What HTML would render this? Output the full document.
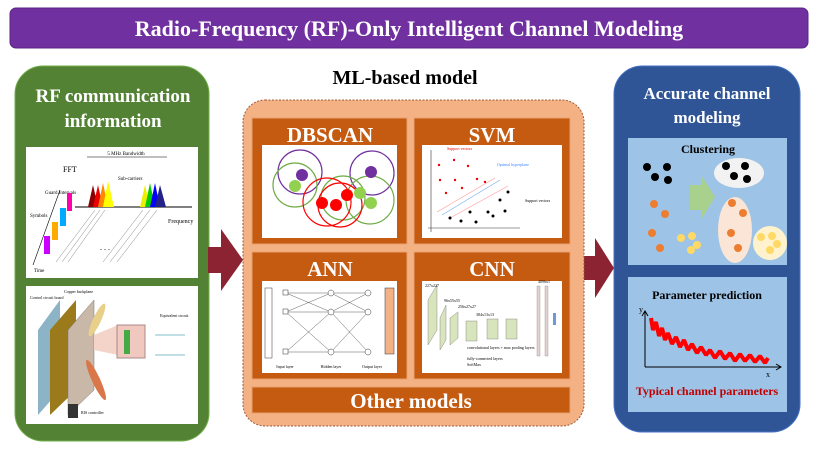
<!DOCTYPE html>
<html><head><meta charset="utf-8"><style>
html,body{margin:0;padding:0;background:#fff;}
svg{display:block;font-family:"Liberation Serif",serif;}
</style></head><body>
<svg width="814" height="458" viewBox="0 0 814 458">
<!-- title -->
<rect x="10" y="8" width="798" height="40" rx="6" fill="#7030a0" stroke="#5a2585"/>
<text x="409" y="36" text-anchor="middle" font-size="22" font-weight="bold" fill="#fff">Radio-Frequency (RF)-Only Intelligent Channel Modeling</text>

<!-- left panel -->
<rect x="15" y="66" width="194" height="375" rx="28" fill="#548235" stroke="#70ad47"/>
<text x="113" y="102" text-anchor="middle" font-size="19" font-weight="bold" fill="#fff">RF communication</text>
<text x="113" y="127" text-anchor="middle" font-size="19" font-weight="bold" fill="#fff">information</text>
<rect x="26" y="147" width="172" height="131" fill="#fff"/>
<rect x="26" y="286" width="172" height="138" fill="#fff"/>
<!-- OFDM sketch -->
<g>
<line x1="75" y1="207" x2="192" y2="207" stroke="#000"/>
<line x1="87" y1="157" x2="167" y2="157" stroke="#000" stroke-width=".6"/>
<text x="126" y="155" font-size="5" text-anchor="middle">5 MHz Bandwidth</text>
<text x="63" y="172" font-size="8">FFT</text>
<text x="168" y="223" font-size="6">Frequency</text>
<text x="34" y="272" font-size="5">Time</text>
<text x="30" y="217" font-size="5">Symbols</text>
<text x="45" y="194" font-size="5">Guard Intervals</text>
<text x="118" y="180" font-size="5">Sub-carriers</text>
<polygon points="88,207 93,185 98,207" fill="#8b0000"/>
<polygon points="93,207 98,185 103,207" fill="#e00"/>
<polygon points="98,207 103,183 108,207" fill="#f80"/>
<polygon points="103,207 108,181 114,207" fill="#ff0"/>
<polygon points="140,207 145,185 150,207" fill="#ee0"/>
<polygon points="145,207 150,183 155,207" fill="#0c0"/>
<polygon points="150,207 155,183 160,207" fill="#00f"/>
<polygon points="155,207 160,185 166,207" fill="#228"/>
<rect x="67" y="193" width="5" height="18" fill="#f0a"/>
<rect x="60" y="208" width="6" height="18" fill="#0af"/>
<rect x="52" y="222" width="6" height="18" fill="#fa0"/>
<rect x="44" y="236" width="6" height="18" fill="#c0f"/>
<line x1="33" y1="265" x2="60" y2="190" stroke="#000" stroke-width=".6"/>
<g stroke="#666" stroke-width=".4">
<line x1="56" y1="262" x2="95" y2="210"/><line x1="62" y1="262" x2="100" y2="210"/><line x1="68" y1="262" x2="105" y2="210"/>
<line x1="103" y1="262" x2="143" y2="210"/><line x1="110" y1="262" x2="150" y2="210"/><line x1="117" y1="262" x2="157" y2="210"/>
</g>
<text x="100" y="250" font-size="8">. . .</text>
</g>
<!-- RIS sketch -->
<polygon points="38,330 60,300 60,390 38,415" fill="#8db3c7"/>
<polygon points="50,330 76,300 76,390 50,415" fill="#9a7a1a"/>
<polygon points="68,330 94,300 94,390 68,415" fill="#c9b8a8" stroke="#777" stroke-width=".5"/>
<polygon points="94,335 118,325 118,355 94,350" fill="#f4d4c8"/>
<rect x="117" y="325" width="28" height="33" fill="#f0c8c0" stroke="#a88"/>
<rect x="124" y="330" width="6" height="24" fill="#4a4"/>
<ellipse cx="97" cy="320" rx="4" ry="18" fill="#e9d08a" transform="rotate(25 97 320)"/>
<ellipse cx="96" cy="380" rx="4" ry="22" fill="#d9764a" transform="rotate(-25 96 380)"/>
<text x="30" y="299" font-size="4">Control circuit board</text>
<text x="64" y="293" font-size="4">Copper backplane</text>
<text x="160" y="317" font-size="4">Equivalent circuit</text>
<rect x="68" y="404" width="10" height="14" fill="#333"/>
<text x="81" y="414" font-size="4">RIS controller</text>
<path d="M155,335 h30 M155,355 h30" stroke="#5ab" stroke-width=".8" fill="none"/>

<!-- arrows -->
<polygon points="208,247 221,247 221,229 243,260 221,291 221,273 208,273" fill="#8b2332"/>
<polygon points="583,256 595,256 595,238 614,268 595,298 595,280 583,280" fill="#8b2332"/>

<!-- middle -->
<text x="405" y="84" text-anchor="middle" font-size="20" font-weight="bold" fill="#000">ML-based model</text>
<rect x="243" y="100" width="341" height="326" rx="22" fill="#f4b183" stroke="#9c5a3a" stroke-dasharray="2,1.5"/>
<rect x="252" y="118" width="155" height="126" fill="#c55a11" stroke="#e8a070"/>
<rect x="414" y="118" width="156" height="126" fill="#c55a11" stroke="#e8a070"/>
<rect x="252" y="252" width="155" height="127" fill="#c55a11" stroke="#e8a070"/>
<rect x="414" y="252" width="156" height="127" fill="#c55a11" stroke="#e8a070"/>
<rect x="252" y="387" width="318" height="26" fill="#c55a11" stroke="#e8a070"/>
<g font-size="21" font-weight="bold" fill="#fff" text-anchor="middle">
<text x="330" y="142">DBSCAN</text>
<text x="492" y="142">SVM</text>
<text x="330" y="276">ANN</text>
<text x="492" y="276">CNN</text>
<text x="411" y="408">Other models</text>
</g>
<rect x="262" y="145" width="135" height="93" fill="#fff"/>
<rect x="422" y="145" width="140" height="93" fill="#fff"/>
<rect x="262" y="281" width="135" height="92" fill="#fff"/>
<rect x="422" y="281" width="140" height="92" fill="#fff"/>
<!-- DBSCAN -->
<g fill="none" stroke-width="1.2">
<circle cx="300" cy="172" r="22" stroke="#7030a0"/>
<circle cx="295" cy="185" r="22" stroke="#70ad47"/>
<circle cx="372" cy="173" r="22" stroke="#7030a0"/>
<circle cx="370" cy="200" r="24" stroke="#70ad47"/>
<circle cx="343" cy="198" r="22" stroke="#70ad47"/>
<circle cx="327" cy="202" r="24" stroke="#f00"/>
<circle cx="340" cy="205" r="22" stroke="#f00"/>
</g>
<circle cx="302" cy="175" r="6" fill="#7030a0"/>
<circle cx="295" cy="186" r="6" fill="#92d050"/>
<circle cx="371" cy="172" r="6" fill="#7030a0"/>
<circle cx="360" cy="193" r="6" fill="#92d050"/>
<circle cx="371" cy="203" r="6" fill="#92d050"/>
<circle cx="322" cy="203" r="6" fill="#f00"/>
<circle cx="336" cy="205" r="6" fill="#f00"/>
<circle cx="347" cy="195" r="6" fill="#f00"/>
<!-- SVM -->
<g stroke="#333" stroke-width=".6"><line x1="431" y1="150" x2="431" y2="232"/><line x1="428" y1="228" x2="520" y2="228"/></g>
<line x1="437" y1="212" x2="495" y2="178" stroke="#f99" stroke-width=".6"/>
<line x1="442" y1="215" x2="500" y2="180" stroke="#7ae" stroke-width=".6"/>
<line x1="450" y1="218" x2="508" y2="186" stroke="#f99" stroke-width=".6"/>
<text x="447" y="150" font-size="4" fill="#e00">Support vectors</text>
<text x="497" y="166" font-size="4" fill="#48f">Optimal hyperplane</text>
<text x="525" y="202" font-size="4">Support vectors</text>
<g fill="#e00"><circle cx="439" cy="165" r="1.2"/><circle cx="454" cy="160" r="1.2"/><circle cx="468" cy="166" r="1.2"/><circle cx="440" cy="180" r="1.2"/><circle cx="455" cy="180" r="1.2"/><circle cx="477" cy="179" r="1.2"/><circle cx="485" cy="182" r="1.2"/><circle cx="446" cy="193" r="1.2"/><circle cx="462" cy="188" r="1.2"/></g>
<g fill="#000"><circle cx="508" cy="192" r="1.5"/><circle cx="500" cy="200" r="1.5"/><circle cx="505" cy="211" r="1.5"/><circle cx="488" cy="212" r="1.5"/><circle cx="493" cy="216" r="1.5"/><circle cx="470" cy="212" r="1.5"/><circle cx="450" cy="218" r="1.5"/><circle cx="461" cy="221" r="1.5"/><circle cx="476" cy="222" r="1.5"/></g>
<!-- ANN -->
<rect x="265" y="288" width="7" height="70" fill="none" stroke="#333" stroke-width=".5"/>
<rect x="385" y="288" width="9" height="66" fill="#f4b183" stroke="#333" stroke-width=".5"/>
<g stroke="#333" stroke-width=".4" fill="none">
<path d="M286,293 L331,293 L368,293 M286,312 L331,312 L368,312 M286,352 L331,352 L368,352 M286,293 L331,312 M286,312 L331,293 M286,312 L331,352 M286,352 L331,312 M331,293 L368,312 M331,312 L368,293 M331,312 L368,352 M331,352 L368,312"/>
</g>
<g fill="#fff" stroke="#333" stroke-width=".5"><rect x="283" y="290" width="5" height="5"/><rect x="283" y="309" width="5" height="5"/><rect x="283" y="349" width="5" height="5"/><circle cx="331" cy="293" r="3"/><circle cx="331" cy="312" r="3"/><circle cx="331" cy="352" r="3"/><circle cx="368" cy="293" r="3"/><circle cx="368" cy="312" r="3"/><circle cx="368" cy="352" r="3"/></g>
<g font-size="4" text-anchor="middle"><text x="285" y="368">Input layer</text><text x="331" y="368">Hidden layer</text><text x="372" y="368">Output layer</text></g>
<!-- CNN -->
<polygon points="428,300 437,285 437,330 428,345" fill="#d8e4bc" stroke="#777" stroke-width=".4"/>
<polygon points="440,318 446,305 446,340 440,350" fill="#d8e4bc" stroke="#777" stroke-width=".4"/>
<polygon points="450,318 458,312 458,338 450,345" fill="#d8e4bc" stroke="#777" stroke-width=".4"/>
<rect x="466" y="321" width="11" height="20" fill="#d8e4bc" stroke="#777" stroke-width=".4"/>
<rect x="487" y="319" width="11" height="20" fill="#d8e4bc" stroke="#777" stroke-width=".4"/>
<rect x="506" y="319" width="11" height="20" fill="#d8e4bc" stroke="#777" stroke-width=".4"/>
<rect x="537" y="286" width="3" height="70" fill="#e6d0d0" stroke="#777" stroke-width=".3"/>
<rect x="545" y="286" width="3" height="70" fill="#e6d0d0" stroke="#777" stroke-width=".3"/>
<rect x="553" y="313" width="3" height="12" fill="#6b9bd2"/>
<g font-size="4"><text x="425" y="287">227x227</text><text x="444" y="302">96x55x55</text><text x="458" y="308">256x27x27</text><text x="476" y="316">384x13x13</text><text x="538" y="283">4096x1</text><text x="467" y="349">convolutional layers + max pooling layers</text><text x="467" y="360">fully-connected layers</text><text x="467" y="366">SoftMax</text></g>

<!-- right panel -->
<rect x="614" y="66" width="186" height="366" rx="28" fill="#2f5597" stroke="#4472c4"/>
<text x="707" y="99" text-anchor="middle" font-size="17" font-weight="bold" fill="#fff">Accurate channel</text>
<text x="707" y="123" text-anchor="middle" font-size="17" font-weight="bold" fill="#fff">modeling</text>
<rect x="628" y="138" width="159" height="127" fill="#9dc3e6"/>
<rect x="628" y="277" width="159" height="135" fill="#9dc3e6"/>
<text x="708" y="153" text-anchor="middle" font-size="12" font-weight="bold">Clustering</text>
<ellipse cx="739" cy="173" rx="25" ry="15" fill="#f2f2f2"/>
<ellipse cx="735" cy="230" rx="17" ry="33" fill="#fbe5d6"/>
<ellipse cx="770" cy="243" rx="17" ry="17" fill="#fff2cc"/>
<polygon points="690,185 701,185 701,175 715,197 701,220 701,210 690,210" fill="#a9d18e"/>
<g fill="#000"><circle cx="647" cy="167" r="4"/><circle cx="667" cy="167" r="4"/><circle cx="655" cy="177" r="4"/><circle cx="668" cy="180" r="4"/><circle cx="726" cy="166" r="4"/><circle cx="745" cy="166" r="4"/><circle cx="734" cy="176" r="4"/><circle cx="747" cy="179" r="4"/></g>
<g fill="#ed7d31"><circle cx="654" cy="204" r="4"/><circle cx="665" cy="214" r="4"/><circle cx="652" cy="233" r="4"/><circle cx="660" cy="248" r="4"/><circle cx="732" cy="203" r="4"/><circle cx="743" cy="213" r="4"/><circle cx="731" cy="233" r="4"/><circle cx="738" cy="248" r="4"/></g>
<g fill="#ffd966"><circle cx="681" cy="238" r="4"/><circle cx="692" cy="236" r="4"/><circle cx="697" cy="245" r="4"/><circle cx="691" cy="250" r="4"/><circle cx="761" cy="237" r="4"/><circle cx="772" cy="236" r="4"/><circle cx="777" cy="244" r="4"/><circle cx="770" cy="250" r="4"/></g>
<text x="707" y="299" text-anchor="middle" font-size="12" font-weight="bold">Parameter prediction</text>
<g stroke="#000" stroke-width="1" fill="none"><path d="M645,367 L645,312 M642,316 L645,311 L648,316 M645,367 L780,367 M776,364 L781,367 L776,370"/></g>
<text x="639" y="312" font-size="8">y</text><text x="766" y="377" font-size="8">x</text>
<path d="M651,318 L653,330 L656,322 L659,336 L662,328 L665,340 L668,333 L672,344 L676,337 L680,347 L684,340 L688,350 L692,344 L697,353 L701,347 L706,355 L710,350 L715,358 L720,351 L725,359 L730,353 L735,361 L740,354 L745,361 L750,355 L755,362 L760,356 L765,363 L768,358" stroke="#f00" stroke-width="4" fill="none" stroke-linejoin="bevel"/>
<text x="707" y="395" text-anchor="middle" font-size="12" font-weight="bold" fill="#c00000">Typical channel parameters</text>
</svg>
</body></html>
